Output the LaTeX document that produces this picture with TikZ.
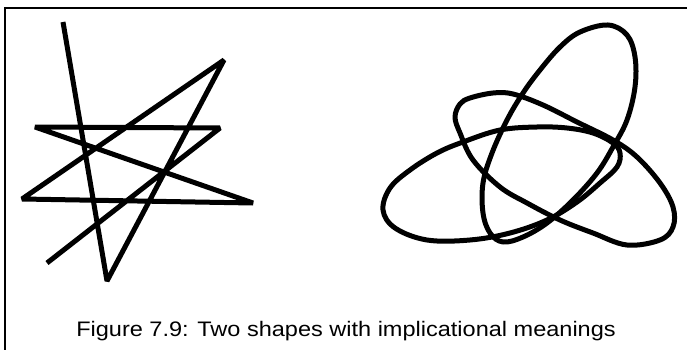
\documentclass[tikz,border=0pt]{standalone}
\usepackage{fontspec}
\setmainfont{Liberation Sans}
\begin{document}
\begin{tikzpicture}[x=1pt,y=-1pt,
  frameline/.style={line width=1.5pt},
  starline/.style={line width=5pt,line join=bevel},
  loopline/.style={line width=5pt,line join=round}]
\useasboundingbox (0,0) rectangle (687,350);
% frame
\draw[frameline] (5,350) -- (5,8) -- (687,8);
% star
\coordinate (s0) at (63,22);
\coordinate (s1) at (107,281);
\coordinate (s2) at (224,60);
\coordinate (s3) at (22,199);
\coordinate (s4) at (253,203);
\coordinate (s5) at (35,127);
\coordinate (s6) at (220,128);
\coordinate (s7) at (47,263);
\draw[starline] (s0) -- (s1) -- (s2) -- (s3) -- (s4) -- (s5) -- (s6) -- (s7);
% loops
\draw[loopline] plot[smooth cycle,tension=0.6] coordinates {
 (608,25) (627,35) (635,57) (635,87) (627,120) (613,147) (597,173) (573,200)
 (547,223) (523,237) (503,242) (490,233) (483,213) (483,183) (492,153)
 (507,120) (523,93) (540,70) (560,47) (580,32)};
\draw[loopline] plot[smooth cycle,tension=0.6] coordinates {
 (383,210) (395,228) (427,240) (470,240) (510,233) (547,220) (577,202) (600,183)
 (617,167) (620,153) (613,143) (593,133) (567,128) (537,127) (500,130)
 (463,142) (437,153) (410,170) (390,188)};
\draw[loopline] plot[smooth cycle,tension=0.6] coordinates {
 (460,104) (470,98) (493,93) (513,94) (543,105) (577,122) (613,140) (637,157)
 (660,183) (673,207) (673,227) (660,240) (627,245) (593,233) (560,220)
 (527,203) (500,187) (473,160) (460,133) (455,117)};
% caption
\node[anchor=base,inner sep=0pt,font=\fontsize{21}{24}\selectfont] (cap) at (346,336)
  {\scalebox{1.12}[1]{Figure 7.9: Two shapes with implicational meanings}};
\end{tikzpicture}
\end{document}
